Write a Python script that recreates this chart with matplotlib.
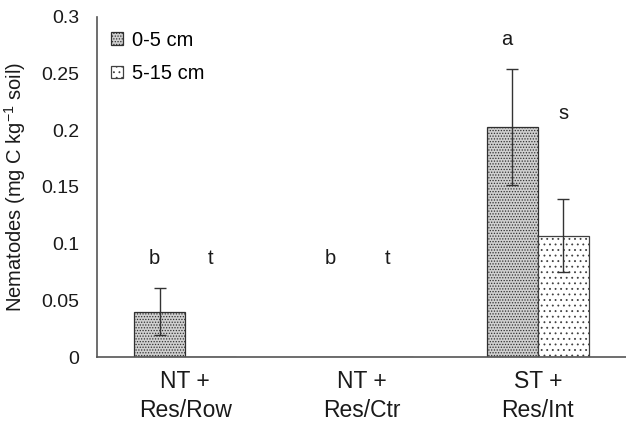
import matplotlib
matplotlib.use("Agg")
import matplotlib.pyplot as plt
import numpy as np

plt.rcParams['font.family'] = ['Liberation Sans', 'DejaVu Sans']
plt.rcParams['hatch.linewidth'] = 0.6

categories = ["NT +\nRes/Row", "NT +\nRes/Ctr", "ST +\nRes/Int"]
series_names = ["0-5 cm", "5-15 cm"]
vals_0_5 = [0.040, 0.0, 0.203]
err_0_5 = [0.021, 0.0, 0.051]
vals_5_15 = [0.0, 0.0, 0.107]
err_5_15 = [0.0, 0.0, 0.032]
letters_0_5 = ["b", "b", "a"]
letters_5_15 = ["t", "t", "s"]
letter_y_0_5 = [0.087, 0.087, 0.28]
letter_y_5_15 = [0.087, 0.087, 0.215]
yticks = [0, 0.05, 0.1, 0.15, 0.2, 0.25, 0.3]
yticklabels = ["0", "0.05", "0.1", "0.15", "0.2", "0.25", "0.3"]

fig = plt.figure(figsize=(6.26, 4.21), dpi=100)
ax = fig.add_axes([0.155, 0.152, 0.845, 0.808])

x = np.arange(len(categories))
w = 0.29
b1 = ax.bar(x - w/2, vals_0_5, w, color='#d0d0d0', edgecolor='#303030', hatch='......',
            linewidth=0.9, label=series_names[0], zorder=2)
b2 = ax.bar(x + w/2, vals_5_15, w, color='white', edgecolor='#404040', hatch='...',
            linewidth=0.9, label=series_names[1], zorder=2)
for xi, v, e in zip(x - w/2, vals_0_5, err_0_5):
    if e > 0:
        ax.errorbar(xi, v, yerr=e, fmt='none', ecolor='#333333', elinewidth=1.0, capsize=4, capthick=1.0, zorder=3)
for xi, v, e in zip(x + w/2, vals_5_15, err_5_15):
    if e > 0:
        ax.errorbar(xi, v, yerr=e, fmt='none', ecolor='#333333', elinewidth=1.0, capsize=4, capthick=1.0, zorder=3)

for xi, t, y in zip(x - w/2, letters_0_5, letter_y_0_5):
    ax.text(xi - 0.03, y, t, ha='center', va='center', fontsize=14.5, color='#1a1a1a')
for xi, t, y in zip(x + w/2, letters_5_15, letter_y_5_15):
    ax.text(xi, y, t, ha='center', va='center', fontsize=14.5, color='#1a1a1a')

ax.set_xlim(-0.5, 2.5)
ax.set_ylim(0, 0.3)
ax.set_yticks(yticks)
ax.set_yticklabels(yticklabels, fontsize=14, color='#1a1a1a')
ax.set_xticks(x)
ax.set_xticklabels(categories, fontsize=16.5, color='#1a1a1a', linespacing=1.35)
ax.tick_params(axis='x', length=0, pad=9)
ax.tick_params(axis='y', length=0, pad=13)
for s in ['top', 'right']:
    ax.spines[s].set_visible(False)
for s in ['left', 'bottom']:
    ax.spines[s].set_color('#555555')
    ax.spines[s].set_linewidth(1.2)

ax.set_ylabel("Nematodes (mg C kg$^{\\mathregular{-1}}$ soil)", fontsize=14.5, color='#1a1a1a', labelpad=9)

leg = ax.legend(loc='upper left', fontsize=14.5, frameon=False, handlelength=0.6, handleheight=0.6,
                borderaxespad=0.3, labelspacing=0.7, handletextpad=0.45)

fig.savefig("out.png", dpi=100)
